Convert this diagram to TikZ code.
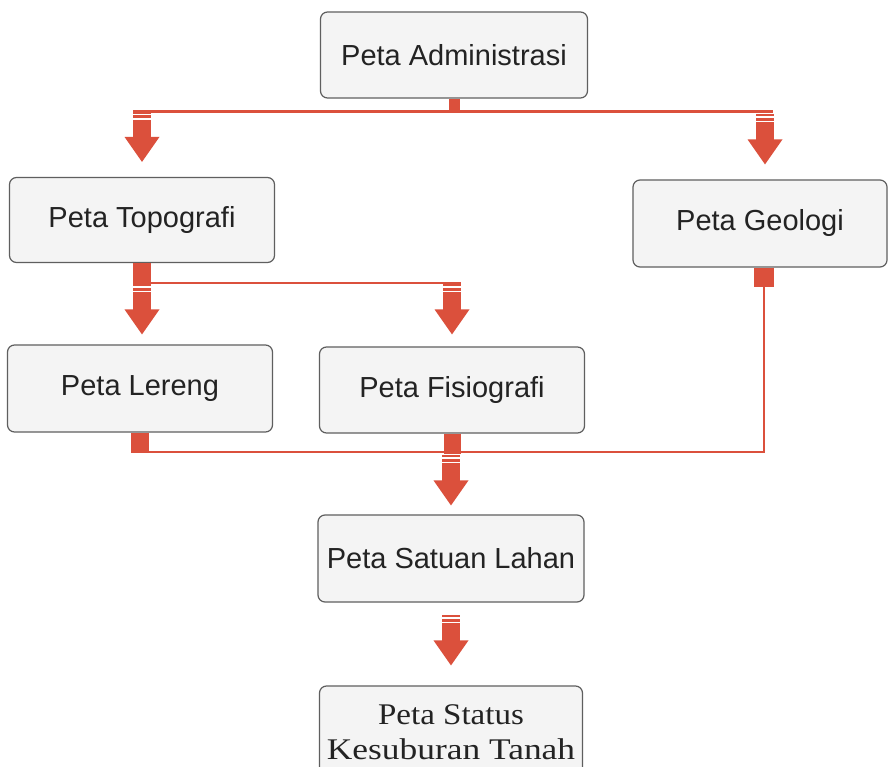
\documentclass[tikz,border=0pt]{standalone}
\usepackage{fontspec}
\setmainfont{Liberation Sans}
\newfontfamily\serifface{Liberation Serif}
\usepackage{graphicx}
\definecolor{rd}{RGB}{219,80,60}
\definecolor{bxfill}{RGB}{244,244,244}
\definecolor{bxdraw}{RGB}{95,95,95}
\definecolor{txt}{RGB}{35,35,35}
\begin{document}
\begin{tikzpicture}[x=1pt,y=-1pt,
  box/.style={draw=bxdraw,line width=1.2pt,fill=bxfill,rounded corners=7pt,inner sep=0pt,
              text=txt,font=\fontsize{29}{34}\selectfont},
  rl/.style={draw=rd,line width=2.8pt},
  stubline/.style={draw=rd,line width=#1},
  sarrow/.pic={
    \fill[rd] (-17.5,-25) -- (17.5,-25) -- (0,0) -- cycle;
    \fill[rd] (-9,-24.5) rectangle (9,-42);
    \fill[rd] (-9,-43.7) rectangle (9,-46.7);
    \fill[rd] (-9,-48.3) rectangle (9,-50.5);
  }]
\useasboundingbox (0,0) rectangle (888,767);
\fill[white] (0,0) rectangle (888,767);

% boxes
\node[box,minimum width=267pt,minimum height=86pt] (adm) at (454,55) {Peta Administrasi};
\node[box,minimum width=265pt,minimum height=85pt] (topo) at (142,220) {Peta Topografi};
\node[box,minimum width=254pt,minimum height=87pt] (geo) at (760,223.5) {Peta Geologi};
\node[box,minimum width=265pt,minimum height=87pt] (lereng) at (140,388.5) {Peta Lereng};
\node[box,minimum width=265pt,minimum height=86pt] (fisio) at (452,390) {Peta Fisiografi};
\node[box,minimum width=266pt,minimum height=87pt] (satuan) at (451,558.5) {Peta Satuan Lahan};
\node[box,minimum width=263pt,minimum height=92pt,align=center,
      font=\serifface\fontsize{30}{35}\selectfont] (status) at (451,732)
      {\scalebox{1.1}[1]{Peta Status}\\\scalebox{1.18}[1]{Kesuburan Tanah}};

% level 1: administrasi -> topografi, geologi
\coordinate (hA) at (133,111.5);
\coordinate (hB) at (773,111.5);
\draw[stubline=11pt] (adm.south) -- (adm.south |- hA);
\draw[rl] (hA) -- (hB);
\pic at ([yshift=15pt]topo.north) {sarrow};
\pic at ([xshift=5pt,yshift=15pt]geo.north) {sarrow};

% level 2: topografi -> lereng, fisiografi
\coordinate (tA) at (150,283);
\coordinate (tB) at (461,283);
\draw[stubline=18pt] (topo.south) -- ([yshift=-1pt]topo.south |- tA);
\draw[rl] (tA) -- (tB);
\pic at ([xshift=2pt,yshift=10pt]lereng.north) {sarrow};
\pic at ([yshift=12pt]fisio.north) {sarrow};

% level 3: lereng, fisiografi, geologi -> satuan lahan
\coordinate (g1) at (764,287);
\coordinate (g2) at (764,452);
\coordinate (l1) at (131,452);
\draw[stubline=20pt] ([xshift=4pt]geo.south) -- (g1);
\draw[rl] (g1) -- (g2) -- (l1);
\draw[stubline=18pt] (lereng.south) -- (lereng.south |- g2);
\draw[stubline=17pt] (fisio.south) -- ([yshift=-2pt]fisio.south |- g2);
\pic at ([yshift=9pt]satuan.north) {sarrow};

% level 4: satuan lahan -> status kesuburan
\pic at ([yshift=20pt]status.north) {sarrow};
\end{tikzpicture}
\end{document}
